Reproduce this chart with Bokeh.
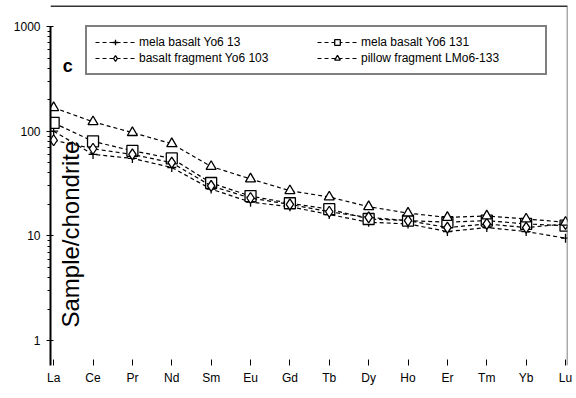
from bokeh.plotting import figure
from bokeh.models import (FixedTicker, NumeralTickFormatter, Legend, LegendItem,
                          Span, Label, Range1d)
from bokeh.embed import file_html
from bokeh.resources import INLINE

elements = ["La", "Ce", "Pr", "Nd", "Sm", "Eu", "Gd", "Tb", "Dy", "Ho", "Er", "Tm", "Yb", "Lu"]
x_idx = list(range(len(elements)))

mela_13 = [100, 60, 55, 45, 28, 21, 19, 16, 13.5, 13, 11, 12, 11, 9.5]
mela_131 = [120, 80, 65, 55, 32, 24, 20.5, 18, 14.5, 14, 13.5, 14, 13, 12.5]
basalt_103 = [82, 68, 60, 50, 30, 23, 20, 17, 15, 14, 12, 13, 12, 13]
pillow_133 = [168, 123, 97, 76, 46, 35, 27, 23.5, 19, 16.5, 15, 15.5, 14.5, 13.5]

labels = ["mela basalt Yo6 13", "mela basalt Yo6 131",
          "basalt fragment Yo6 103", "pillow fragment LMo6-133"]

y_major = [1, 10, 100, 1000]
y_minor = [2, 3, 4, 5, 6, 7, 8, 9, 20, 30, 40, 50, 60, 70, 80, 90,
           200, 300, 400, 500, 600, 700, 800, 900]

FONT = "Liberation Sans"

p = figure(width=576, height=398, y_axis_type="log",
           x_range=Range1d(-0.08, 13.05), y_range=Range1d(0.577, 1590),
           output_backend="svg", toolbar_location=None,
           min_border_left=50, min_border_right=9, min_border_top=5, min_border_bottom=33)
p.outline_line_color = None
p.xgrid.visible = False
p.ygrid.visible = False
p.background_fill_color = "white"
p.border_fill_color = "white"

# axes
p.yaxis.ticker = FixedTicker(ticks=y_major, minor_ticks=y_minor)
p.yaxis.formatter = NumeralTickFormatter(format="0")
p.yaxis.bounds = (0.577, 1000)
p.yaxis.axis_line_width = 2
p.yaxis.axis_line_color = "black"
p.yaxis.major_tick_in = 3
p.yaxis.major_tick_out = 4
p.yaxis.minor_tick_in = 0
p.yaxis.minor_tick_out = 3
p.yaxis.major_label_standoff = 6
p.yaxis.major_label_text_font = FONT
p.yaxis.major_label_text_font_size = "12px"
p.yaxis.major_label_text_color = "black"

p.xaxis.ticker = FixedTicker(ticks=x_idx)
p.xaxis.major_label_overrides = {i: e for i, e in zip(x_idx, elements)}
p.xaxis.axis_line_color = None
p.xaxis.major_tick_in = 6
p.xaxis.major_tick_out = 0
p.xaxis.minor_tick_line_color = None
p.xaxis.major_label_standoff = 5
p.xaxis.major_label_text_font = FONT
p.xaxis.major_label_text_font_size = "12px"
p.xaxis.major_label_text_color = "black"

# frame top and right
p.add_layout(Span(location=1590, dimension="width", line_color="#333333", line_width=3))
p.add_layout(Span(location=13.05, dimension="height", line_color="#555555", line_width=1.5))

series = [
    (mela_13, "cross", 9),
    (mela_131, "square", 11),
    (basalt_103, "diamond", 11),
    (pillow_133, "triangle", 10),
]
renderers = []
for vals, marker, size in series:
    l = p.line(x_idx, vals, line_color="black", line_width=1.2, line_dash="4 3")
    m = p.scatter(x_idx, vals, marker=marker, size=size, fill_color="white",
                  line_color="black", line_width=1.3)
    renderers.append([l, m])

# column-major legend order: left column first, then right column
order = [0, 2, 1, 3]
items = [LegendItem(label=labels[i], renderers=renderers[i]) for i in order]
legend = Legend(items=items, ncols=2, location=(35, 290),
                label_text_font=FONT, label_text_font_size="12px",
                label_text_color="black", glyph_width=40, glyph_height=14,
                label_width=176, label_height=14,
                spacing=2, padding=8, margin=0, label_standoff=4,
                border_line_color="black", border_line_width=2,
                background_fill_alpha=1)
p.add_layout(legend, "center")

p.add_layout(Label(x=0.43, y=1.33, text="Sample/chondrite", angle=1.5708,
                   text_align="left", text_baseline="middle",
                   text_font=FONT, text_font_size="24px", text_color="black"))
p.add_layout(Label(x=0.36, y=420, text="c", text_align="center",
                   text_baseline="middle", text_font=FONT, text_font_style="bold",
                   text_font_size="18px", text_color="black"))

open("out.html", "w").write(file_html(p, INLINE))
